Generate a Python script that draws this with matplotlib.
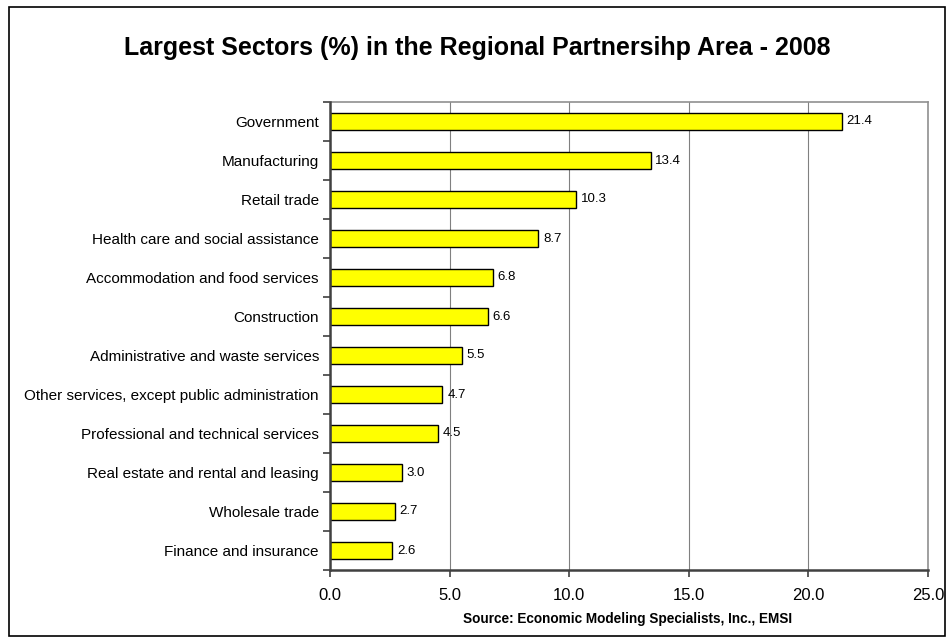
import matplotlib
matplotlib.use("Agg")
import matplotlib.pyplot as plt
from matplotlib.patches import Rectangle
import numpy as np

plt.rcParams['font.family'] = ['Liberation Sans', 'DejaVu Sans']

sectors = [
    "Government",
    "Manufacturing",
    "Retail trade",
    "Health care and social assistance",
    "Accommodation and food services",
    "Construction",
    "Administrative and waste services",
    "Other services, except public administration",
    "Professional and technical services",
    "Real estate and rental and leasing",
    "Wholesale trade",
    "Finance and insurance",
]
shares = [21.4, 13.4, 10.3, 8.7, 6.8, 6.6, 5.5, 4.7, 4.5, 3.0, 2.7, 2.6]
x_ticks = [0, 5, 10, 15, 20, 25]

W, H = 953, 640
fig = plt.figure(figsize=(W / 100, H / 100), dpi=100)

# outer frame around the whole chart
fig.add_artist(Rectangle((9 / W, 1 - 636 / H), (945 - 9) / W, (636 - 7) / H,
                         transform=fig.transFigure, fill=False,
                         edgecolor='black', linewidth=1.2))

ax = fig.add_axes([330 / W, 1 - 570 / H, (928 - 330) / W, (570 - 102) / H])

n = len(sectors)
y = np.arange(n)
ax.barh(y, shares, height=0.42, color='#FFFF00', edgecolor='black',
        linewidth=1.0, zorder=3)
for yi, v in zip(y, shares):
    ax.text(v + 0.2, yi, f"{v:.1f}", va='center', ha='left', fontsize=9.5,
            zorder=4)

ax.set_ylim(n - 0.5, -0.5)
ax.set_xlim(0, 25)
ax.set_xticks(x_ticks)
ax.set_xticklabels([f"{t:.1f}" for t in x_ticks], fontsize=12)

ax.set_yticks(y)
ax.set_yticklabels(sectors, fontsize=11)
ax.tick_params(axis='y', which='major', length=0, pad=8)
ax.set_yticks(np.arange(-0.5, n, 1), minor=True)
ax.tick_params(axis='y', which='minor', length=5, width=1.2, color='#404040',
               direction='out')
ax.tick_params(axis='x', length=5, width=1.2, color='#404040', pad=8)

ax.grid(axis='x', color='#808080', linewidth=0.8, zorder=0)
for s in ('top', 'right'):
    ax.spines[s].set_color('#909090')
    ax.spines[s].set_linewidth(1.2)
for s in ('left', 'bottom'):
    ax.spines[s].set_color('#404040')
    ax.spines[s].set_linewidth(1.8)
    ax.spines[s].set_zorder(5)

fig.text(477 / W, 1 - 48 / H,
         "Largest Sectors (%) in the Regional Partnersihp Area - 2008",
         ha='center', va='center', fontsize=18, fontweight='bold')
fig.text(628 / W, 1 - 619 / H,
         "Source: Economic Modeling Specialists, Inc., EMSI",
         ha='center', va='center', fontsize=9.8, fontweight='bold')

fig.savefig("out.png", dpi=100)
